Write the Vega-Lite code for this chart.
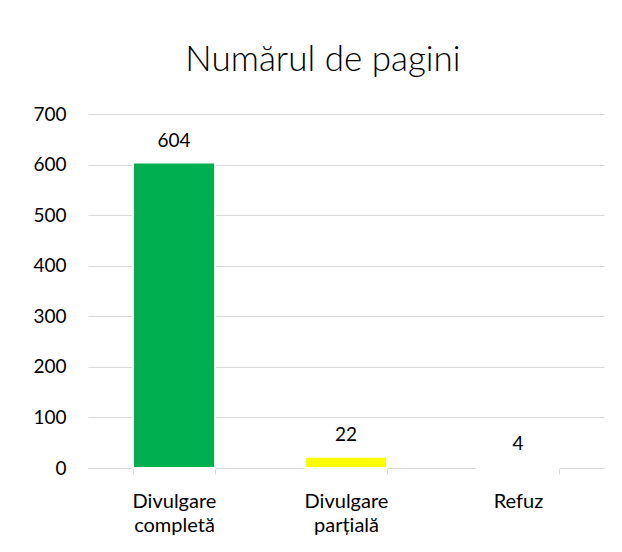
{
  "$schema": "https://vega.github.io/schema/vega-lite/v6.json",
  "autosize": "none",
  "width": 516,
  "height": 354,
  "padding": {"left": 88, "top": 114, "right": 18, "bottom": 84},
  "background": "white",
  "config": {
    "view": {"stroke": null},
    "font": "Lato"
  },
  "title": {
    "text": "Numărul de pagini",
    "fontSize": 35,
    "fontWeight": 300,
    "color": "#000000",
    "font": "Lato",
    "anchor": "middle",
    "dx": -23,
    "offset": 27
  },
  "data": {
    "values": [
      {"categorie": "Divulgare completă", "pagini": 604},
      {"categorie": "Divulgare parțială", "pagini": 22},
      {"categorie": "Refuz", "pagini": 4}
    ]
  },
  "encoding": {
    "x": {
      "field": "categorie",
      "type": "nominal",
      "sort": null,
      "scale": {"paddingInner": 0.523, "paddingOuter": 0.2615},
      "axis": {
        "title": null,
        "labelAngle": 0,
        "labelExpr": "split(datum.label, ' ')",
        "labelFontSize": 20,
        "labelColor": "#000000",
        "labelPadding": 17,
        "labelLineHeight": 24,
        "domainColor": "#d9d9d9",
        "tickColor": "#d9d9d9",
        "tickSize": 6,
        "tickBand": "extent",
        "grid": false
      }
    },
    "y": {
      "field": "pagini",
      "type": "quantitative",
      "scale": {"domain": [0, 700]},
      "axis": {
        "title": null,
        "values": [0, 100, 200, 300, 400, 500, 600, 700],
        "labelFontSize": 19,
        "labelColor": "#000000",
        "labelPadding": 22,
        "domain": false,
        "ticks": false,
        "gridColor": "#d9d9d9",
        "gridWidth": 1.2
      }
    }
  },
  "layer": [
    {
      "mark": {"type": "bar", "stroke": "white", "strokeWidth": 2},
      "encoding": {
        "color": {
          "field": "categorie",
          "type": "nominal",
          "scale": {
            "domain": ["Divulgare completă", "Divulgare parțială", "Refuz"],
            "range": ["#00B050", "#FFFF00", "#FFFFFF"]
          },
          "legend": null
        }
      }
    },
    {
      "mark": {"type": "text", "baseline": "bottom", "dy": -12, "fontSize": 19, "color": "#000000"},
      "encoding": {
        "text": {"field": "pagini", "type": "quantitative"}
      }
    }
  ]
}
